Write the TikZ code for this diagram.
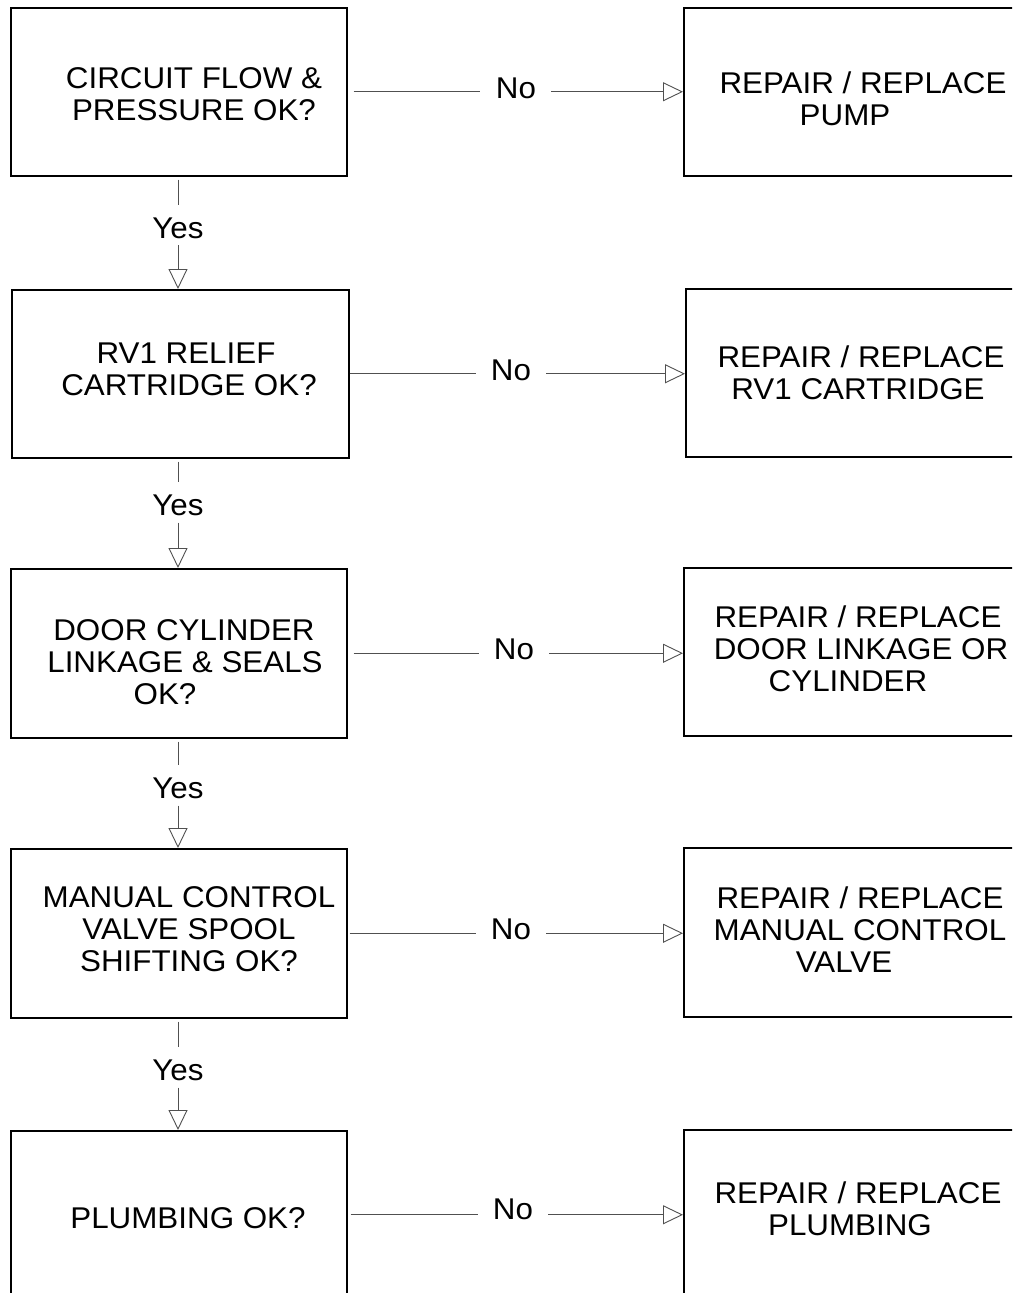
\documentclass[tikz,border=0pt]{standalone}
\usepackage{fontspec}
\setmainfont{Liberation Sans}[FakeStretch=1.045]
\usetikzlibrary{arrows.meta}
\definecolor{conncol}{RGB}{80,80,80}
\newcommand\shl[2]{\hbox{\kern#1\relax#2\kern-#1\relax}}
\begin{document}
\begin{tikzpicture}[x=1pt,y=-1pt,
  box/.style={draw=black, line width=1.5pt, inner sep=0pt, anchor=north west, minimum height=168pt},
  lbox/.style={box, minimum width=336pt},
  rbox/.style={box, minimum width=420pt},
  txt/.style={align=center, anchor=base, inner sep=0pt, font=\fontsize{30pt}{32pt}\selectfont},
  lbl/.style={anchor=base, inner sep=0pt, font=\fontsize{30pt}{32pt}\selectfont},
  conn/.style={draw=conncol, line width=0.9pt},
  arr/.style={conn, -{Triangle[open, length=20pt, width=19pt, line width=0.9pt]}}]
\useasboundingbox (0,0) rectangle (1012,1293);
\fill[white] (0,0) rectangle (1012,1293);
\clip (0,0) rectangle (1012,1293);

% left boxes
\node[lbox] (q1) at (10,7) {};
\node[lbox, minimum width=337pt] (q2) at (11,289) {};
\node[lbox, minimum height=169pt] (q3) at (10,568) {};
\node[lbox, minimum height=169pt] (q4) at (10,848) {};
\node[lbox] (q5) at (10,1130) {};
% right boxes
\node[rbox] (r1) at (683,7) {};
\node[rbox] (r2) at (685,288) {};
\node[rbox] (r3) at (683,567) {};
\node[rbox, minimum height=169pt] (r4) at (683,847) {};
\node[rbox] (r5) at (683,1129) {};

% texts (anchor = baseline of the last line)
\node[txt] (t1) at (194,120) {CIRCUIT FLOW \&\\PRESSURE OK?};
\node[txt] (t2) at (189,395) {\shl{-3pt}{RV1 RELIEF}\\CARTRIDGE OK?};
\node[txt] (t3) at (185,704) {\shl{-1pt}{DOOR CYLINDER}\\LINKAGE \& SEALS\\\shl{-20pt}{OK?}};
\node[txt] (t4) at (189,971) {MANUAL CONTROL\\VALVE SPOOL\\SHIFTING OK?};
\node[txt] (t5) at (188,1228) {PLUMBING OK?};

\node[txt] (s1) at (863,125) {REPAIR / REPLACE\\\shl{-18pt}{PUMP}};
\node[txt] (s2) at (861,399) {REPAIR / REPLACE\\\shl{-3pt}{RV1 CARTRIDGE}};
\node[txt] (s3) at (860,691) {\shl{-2pt}{REPAIR / REPLACE}\\\shl{1pt}{DOOR LINKAGE OR}\\\shl{-12pt}{CYLINDER}};
\node[txt] (s4) at (860,972) {REPAIR / REPLACE\\MANUAL CONTROL\\\shl{-16pt}{VALVE}};
\node[txt] (s5) at (858,1235) {REPAIR / REPLACE\\\shl{-8pt}{PLUMBING}};

% No labels
\node[lbl] (n1) at (516,98) {No};
\node[lbl] (n2) at (511,380) {No};
\node[lbl] (n3) at (514,659) {No};
\node[lbl] (n4) at (511,939) {No};
\node[lbl] (n5) at (513,1219) {No};

% Yes labels
\node[lbl] (y1) at (178,238) {Yes};
\node[lbl] (y2) at (178,515) {Yes};
\node[lbl] (y3) at (178,798) {Yes};
\node[lbl] (y4) at (178,1080) {Yes};

% No connectors
\draw[conn] ([xshift=6pt]q1.east) -- ([xshift=-16pt]n1.west |- q1.east);
\draw[arr] ([xshift=15pt]n1.east |- q1.east) -- (q1.east -| r1.west);
\draw[conn] (q2.east) -- ([xshift=-15pt]n2.west |- q2.east);
\draw[arr] ([xshift=15pt]n2.east |- q2.east) -- (q2.east -| r2.west);
\draw[conn] ([xshift=6pt]q3.east) -- ([xshift=-15pt]n3.west |- q3.east);
\draw[arr] ([xshift=15pt]n3.east |- q3.east) -- (q3.east -| r3.west);
\draw[conn] ([xshift=2pt]q4.east) -- ([xshift=-15pt]n4.west |- q4.east);
\draw[arr] ([xshift=15pt]n4.east |- q4.east) -- (q4.east -| r4.west);
\draw[conn] ([xshift=3pt]q5.east) -- ([xshift=-15pt]n5.west |- q5.east);
\draw[arr] ([xshift=15pt]n5.east |- q5.east) -- (q5.east -| r5.west);

% Yes connectors
\draw[conn] ([yshift=-3pt]y1 |- q1.south) -- ([yshift=12pt]y1.north);
\draw[arr] ([yshift=-7pt]y1.south) -- (y1 |- q2.north);
\draw[conn] ([yshift=-3pt]y2 |- q2.south) -- ([yshift=12pt]y2.north);
\draw[arr] ([yshift=-7pt]y2.south) -- (y2 |- q3.north);
\draw[conn] ([yshift=-3pt]y3 |- q3.south) -- ([yshift=12pt]y3.north);
\draw[arr] ([yshift=-7pt]y3.south) -- (y3 |- q4.north);
\draw[conn] ([yshift=-3pt]y4 |- q4.south) -- ([yshift=12pt]y4.north);
\draw[arr] ([yshift=-7pt]y4.south) -- (y4 |- q5.north);
\end{tikzpicture}
\end{document}
